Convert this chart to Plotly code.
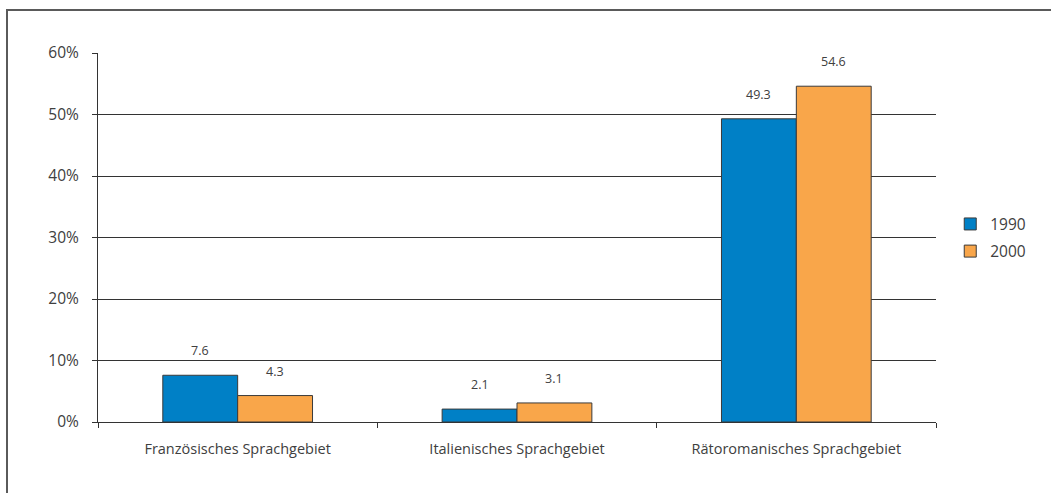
import plotly.graph_objects as go

categories = ["Französisches Sprachgebiet", "Italienisches Sprachgebiet", "Rätoromanisches Sprachgebiet"]
series_names = ["1990", "2000"]
values_1990 = [7.6, 2.1, 49.3]
values_2000 = [4.3, 3.1, 54.6]
y_ticks = [0, 10, 20, 30, 40, 50, 60]
y_tick_labels = ["0%", "10%", "20%", "30%", "40%", "50%", "60%"]

colors = ["#0080C6", "#F9A64A"]
font_family = "Open Sans, Lato, sans-serif"
text_color = "#404040"

fig = go.Figure()
for name, vals, col in zip(series_names, [values_1990, values_2000], colors):
    fig.add_trace(go.Bar(
        x=categories, y=vals, name=name, legendgroup=name,
        marker=dict(color=col, line=dict(color="#3a3a3a", width=1)),
    ))

# value labels above each bar
bar_half = 0.134
for vals, off in zip([values_1990, values_2000], [-bar_half, bar_half]):
    for i, v in enumerate(vals):
        fig.add_annotation(
            x=i + off, y=v, xref="x", yref="y",
            text=f"{v:.1f}", showarrow=False,
            yanchor="bottom", yshift=14,
            font=dict(size=12.5, color=text_color, family=font_family),
        )

# outer frame
fig.add_shape(type="rect", xref="paper", yref="paper",
              x0=-91/838, x1=1.2, y0=-0.3, y1=(422-10)/369,
              line=dict(color="#5a5a5a", width=2), layer="above")

fig.update_layout(
    width=1051, height=493,
    margin=dict(l=98, r=115, t=53, b=71),
    paper_bgcolor="white", plot_bgcolor="white",
    barmode="group", bargap=0.464, bargroupgap=0,
    font=dict(family=font_family, size=15, color=text_color),
    showlegend=True,
    legend=dict(x=1.017, y=0.499, xanchor="left", yanchor="middle",
                font=dict(size=15.5, color=text_color),
                itemwidth=30, tracegroupgap=4),
    xaxis=dict(
        type="category", range=[-0.5, 2.5],
        showline=True, linecolor="#333333", linewidth=1,
        ticks="outside", ticklen=5, tickcolor="#333333",
        tickson="boundaries", showgrid=False,
        tickfont=dict(size=14.5, color=text_color),
        ticklabelstandoff=14,
    ),
    yaxis=dict(
        range=[0, 60], tickvals=y_ticks, ticktext=y_tick_labels,
        showline=True, linecolor="#333333", linewidth=1,
        ticks="outside", ticklen=5, tickcolor="#333333",
        showgrid=True, gridcolor="#333333", gridwidth=1,
        zeroline=False,
        tickfont=dict(size=15.5, color=text_color),
        ticklabelstandoff=10,
    ),
)

fig.write_html("out.html")
